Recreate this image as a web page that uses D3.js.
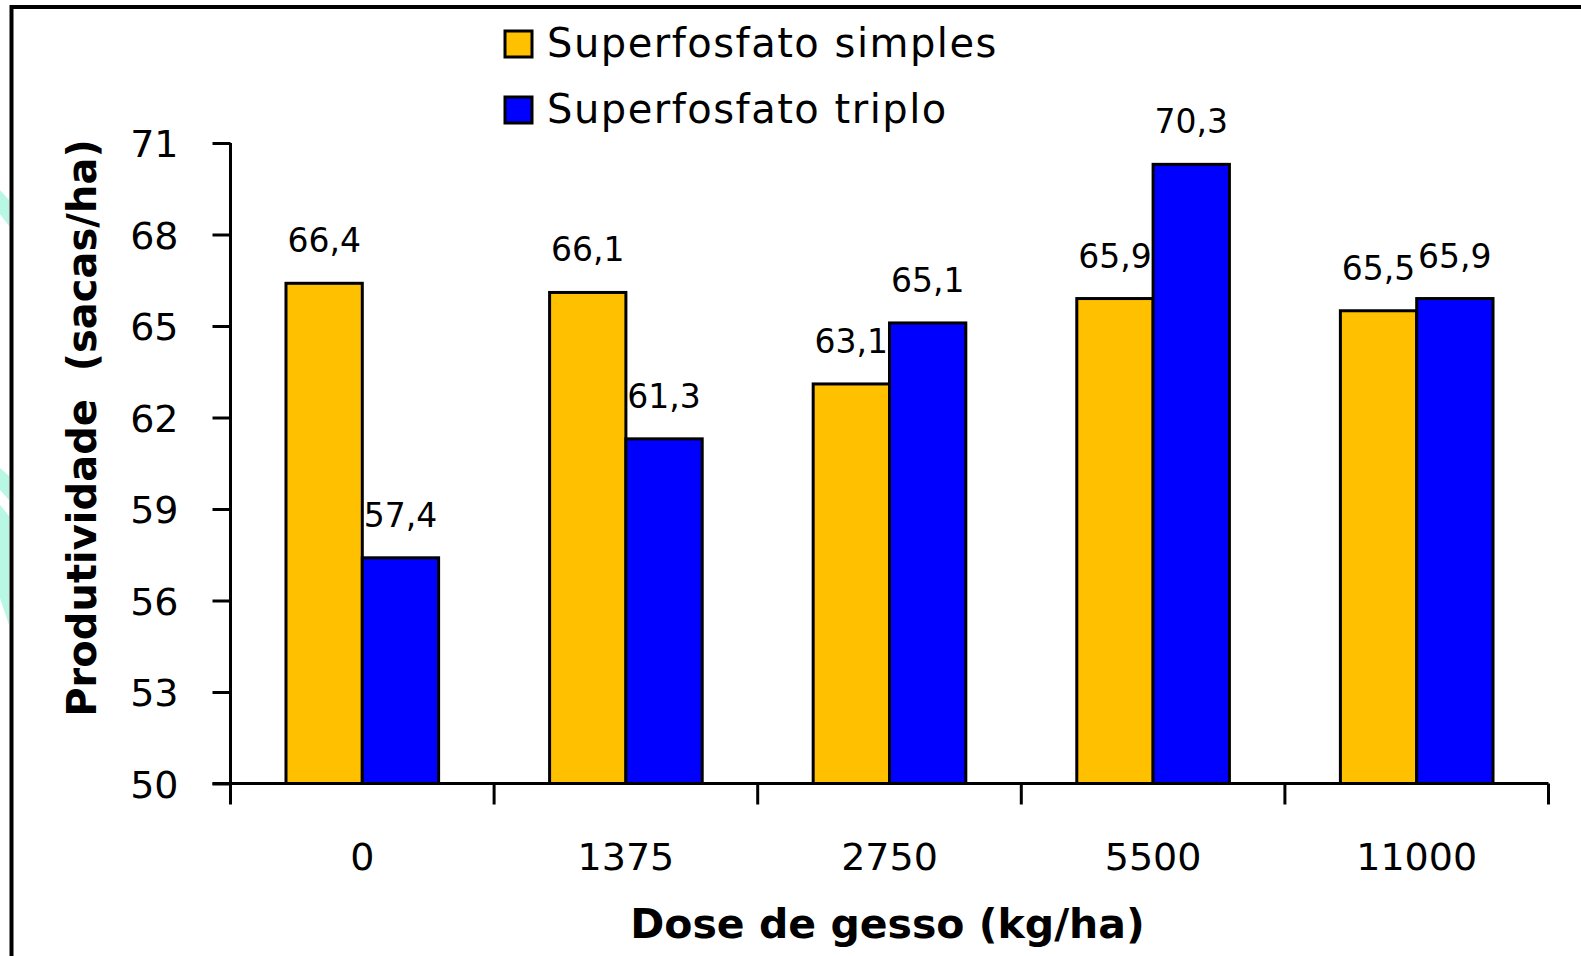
<!DOCTYPE html>
<html>
<head>
<meta charset="utf-8">
<script src="https://cdn.jsdelivr.net/npm/d3@7"></script>
<style>
  html, body { margin: 0; padding: 0; background: #fff; }
  svg { display: block; }
  text { font-family: "DejaVu Sans", Verdana, sans-serif; fill: #000; }
</style>
</head>
<body>
<script>
// ---- data ----
const categories = ["0", "1375", "2750", "5500", "11000"];
const seriesNames = ["Superfosfato simples", "Superfosfato triplo"];
const simples = [66.4, 66.1, 63.1, 65.9, 65.5];
const triplo = [57.4, 61.3, 65.1, 70.3, 65.9];
const yTicks = [50, 53, 56, 59, 62, 65, 68, 71];
const seriesColors = ["#FFC000", "#0000FF"];
const yTitle = "Produtividade  (sacas/ha)";
const xTitle = "Dose de gesso (kg/ha)";

const W = 1581, H = 956;
const svg = d3.select("body").append("svg").attr("width", W).attr("height", H);

// background watermark fragments (mint) at far left
const mint = "#B8F7E4";
svg.append("path").attr("d", "M0,190 L9,200 L9,226 L0,214 Z").attr("fill", mint);
svg.append("path").attr("d", "M0,468 L9,476 L9,500 L0,490 Z").attr("fill", mint);
svg.append("path").attr("d", "M0,505 L9,516 L9,625 L0,598 Z").attr("fill", mint);

// frame
svg.append("path").attr("d", "M11.5,956 L11.5,7 L1581,7")
  .attr("fill", "none").attr("stroke", "#000").attr("stroke-width", 4);

// scales
const plotL = 230.5, plotR = 1548.5, plotT = 143, plotB = 783.5;
const y = d3.scaleLinear().domain([50, 71]).range([plotB, plotT]);
const x0 = d3.scaleBand().domain(categories).range([plotL, plotR])
  .paddingInner(0.421).paddingOuter(0.2105);
const x1 = d3.scaleBand().domain(seriesNames).range([0, x0.bandwidth()]).padding(0);

const rows = categories.map((c, i) => ({
  cat: c,
  vals: [{ s: seriesNames[0], v: simples[i], k: 0 }, { s: seriesNames[1], v: triplo[i], k: 1 }]
}));

// bars
const g = svg.append("g");
const groups = g.selectAll("g.grp").data(rows).join("g")
  .attr("transform", d => `translate(${x0(d.cat)},0)`);
groups.selectAll("rect").data(d => d.vals).join("rect")
  .attr("x", d => x1(d.s))
  .attr("y", d => y(d.v))
  .attr("width", x1.bandwidth())
  .attr("height", d => y(50) - y(d.v))
  .attr("fill", d => seriesColors[d.k])
  .attr("stroke", "#000").attr("stroke-width", 3);

// data labels
const fmt = v => d3.format(".1f")(v).replace(".", ",");
groups.selectAll("text.lbl").data(d => d.vals).join("text")
  .attr("class", "lbl")
  .attr("x", d => x1(d.s) + x1.bandwidth() / 2)
  .attr("y", d => y(d.v) - 31)
  .attr("text-anchor", "middle")
  .style("font-size", "33px")
  .text(d => fmt(d.v));

// y axis
const yAxis = d3.axisLeft(y).tickValues(yTicks).tickSize(18).tickPadding(0).tickFormat(d3.format("d"));
const ya = svg.append("g").attr("transform", `translate(${plotL},0)`).call(yAxis);
ya.select(".domain").attr("stroke", "#000").attr("stroke-width", 3)
  .attr("d", `M0,${plotT}V${plotB}`);
ya.selectAll(".tick line").attr("stroke", "#000").attr("stroke-width", 3);
ya.selectAll(".tick text").attr("x", -52).attr("dy", "0.36em")
  .style("font-size", "38px").style("font-family", "DejaVu Sans, sans-serif").attr("fill", "#000");

// x axis
const xa = svg.append("g").attr("transform", `translate(0,${plotB})`);
xa.append("line").attr("x1", plotL - 18).attr("x2", plotR).attr("y1", 0).attr("y2", 0)
  .attr("stroke", "#000").attr("stroke-width", 3);
const bounds = categories.map(c => x0(c) - x0.step() * x0.paddingOuter()).concat([plotR]);
xa.selectAll("line.tk").data(bounds).join("line").attr("class", "tk")
  .attr("x1", d => d).attr("x2", d => d).attr("y1", 0).attr("y2", 21)
  .attr("stroke", "#000").attr("stroke-width", 3);
xa.selectAll("text.xl").data(categories).join("text").attr("class", "xl")
  .attr("x", d => x0(d) + x0.bandwidth() / 2)
  .attr("y", 86)
  .attr("text-anchor", "middle")
  .style("font-size", "38px")
  .text(d => d);

// axis titles
svg.append("text")
  .attr("transform", `translate(96,428) rotate(-90)`)
  .attr("text-anchor", "middle")
  .style("font-size", "40px").style("font-weight", "bold")
  .attr("xml:space", "preserve")
  .text(yTitle);
svg.append("text")
  .attr("x", (plotL + plotR) / 2 - 2).attr("y", 938)
  .attr("text-anchor", "middle")
  .style("font-size", "41px").style("font-weight", "bold")
  .text(xTitle);

// legend
const leg = svg.append("g").attr("transform", "translate(505,31)");
const li = leg.selectAll("g").data(seriesNames).join("g")
  .attr("transform", (d, i) => `translate(0,${i * 66})`);
li.append("rect").attr("width", 27).attr("height", 26)
  .attr("fill", (d, i) => seriesColors[i]).attr("stroke", "#000").attr("stroke-width", 3);
li.append("text").attr("x", 42).attr("y", 26)
  .style("font-size", "40px").style("letter-spacing", "1.5px")
  .text(d => d);
</script>
</body>
</html>
